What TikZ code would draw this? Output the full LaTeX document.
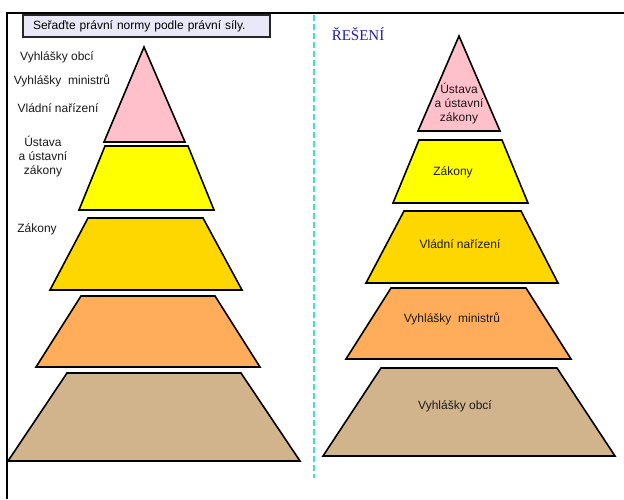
\documentclass[tikz,border=0pt]{standalone}
\usepackage{fontspec}
\setmainfont{Liberation Sans}
\newfontfamily\patkove{Liberation Serif}
\usepackage{tikz}
\usetikzlibrary{positioning}
\definecolor{ruzova}{HTML}{FFC0CB}
\definecolor{zluta}{HTML}{FFFF00}
\definecolor{zlata}{HTML}{FFD700}
\definecolor{oranzova}{HTML}{FFAD5B}
\definecolor{bezova}{HTML}{D2B48C}
\definecolor{levandule}{HTML}{E8E8F8}
\definecolor{tyrkys}{HTML}{40E0D0}
\definecolor{modra}{HTML}{2020A0}
\tikzstyle{vrstva}=[draw=black, line width=1.6pt]
\tikzstyle{popis}=[text=black!90, font=\fontsize{12}{14}\selectfont, align=center, inner sep=0pt]
\tikzstyle{zadani}=[draw=black!85, fill=levandule, line width=1.6pt, text width=227, inner xsep=10,
minimum height=22, align=left, font=\fontsize{12}{14}\selectfont]
% trapezoid: fill, y top, x top left, x top right, y bottom, x bottom left, x bottom right
\newcommand{\vrstva}[7]{\path[vrstva, fill=#1] (#3,#2) -- (#4,#2) -- (#7,#5) -- (#6,#5) -- cycle;}
\newcommand{\popis}[3]{\node (#1)[popis] at (#2) {#3};}

\begin{document}
\begin{tikzpicture}[x=1pt, y=-1pt]
		\useasboundingbox (0,0) rectangle (624,499);
		
		% Frame and divider
		\draw[line width=2pt] (7,499) -- (7,13) -- (624,13);
		\draw[tyrkys, line width=1.6pt, dash pattern=on 6pt off 3pt] (314,15) -- (314,478);
		\node (zad)[zadani] at (146.5,26) {Seřaďte právní normy podle právní síly.};
		\node (res)[text=modra, font=\patkove\fontsize{15}{17}\selectfont, inner sep=0pt] at (358,34) {ŘEŠENÍ};
		
		% Left pyramid
		\path[vrstva, fill=ruzova] (144,47) -- (185,142) -- (104,142) -- cycle;
		\vrstva{zluta}{146}{105}{188}{210}{79}{214}
		\vrstva{zlata}{218}{88}{203}{290}{50}{242}
		\vrstva{oranzova}{296}{81}{215}{367}{36}{260}
		\vrstva{bezova}{373}{67}{241}{461}{8}{300}
		
		\popis{l1}{57,57}{Vyhlášky obcí}
		\popis{l2}{62,81}{Vyhlášky\ \ ministrů}
		\popis{l3}{58,108}{Vládní nařízení}
		\popis{l4}{43,157}{Ústava\\a ústavní\\zákony}
		\popis{l5}{37,229}{Zákony}
		
		% Right pyramid
		\path[vrstva, fill=ruzova] (459,36) -- (500,131) -- (418,131) -- cycle;
		\vrstva{zluta}{140}{419}{502}{203}{393}{528}
		\vrstva{zlata}{211}{404}{521}{283}{366}{558}
		\vrstva{oranzova}{288}{391}{526}{359}{346}{571}
		\vrstva{bezova}{368}{381}{557}{456}{323}{615}
		
		\popis{r1}{459,104}{Ústava\\a ústavní\\zákony}
		\popis{r2}{453,172}{Zákony}
		\popis{r3}{460,244}{Vládní nařízení}
		\popis{r4}{452,319}{Vyhlášky\ \ ministrů}
		\popis{r5}{455,406}{Vyhlášky obcí}
		
\end{tikzpicture}
\end{document}
